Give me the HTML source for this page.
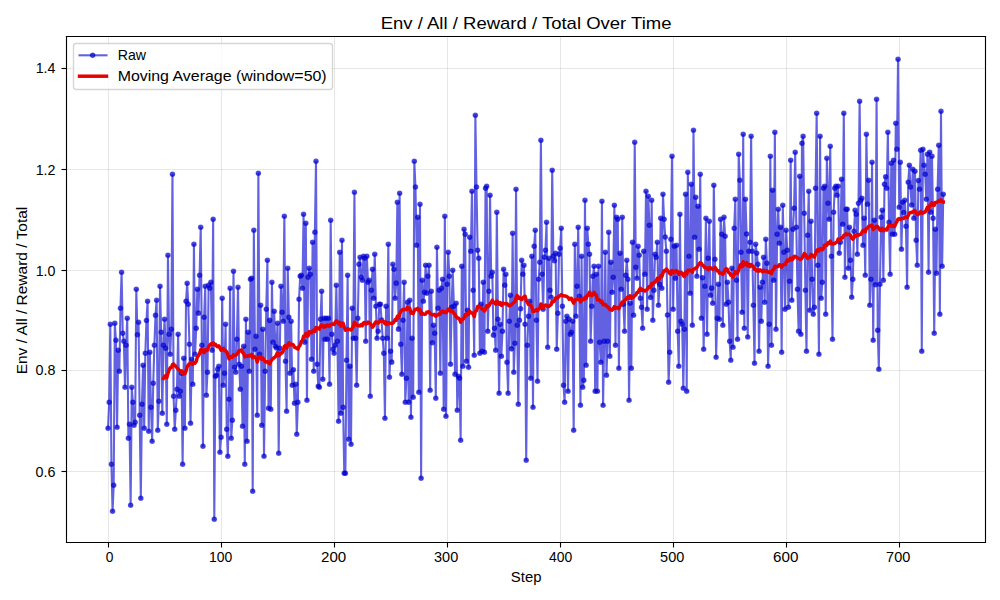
<!DOCTYPE html>
<html><head><meta charset="utf-8"><title>Env / All / Reward / Total Over Time</title><style>
html,body{margin:0;padding:0;background:#fff;width:1000px;height:600px;overflow:hidden}
svg{display:block}
text{font-family:"Liberation Sans",sans-serif;fill:#000}
</style></head><body>
<svg width="1000" height="600" viewBox="0 0 1000 600">
<rect width="1000" height="600" fill="#fff"/>
<g stroke="#b0b0b0" stroke-opacity="0.3" stroke-width="1.11"><line x1="108.5" y1="36.5" x2="108.5" y2="542.5"/><line x1="221.5" y1="36.5" x2="221.5" y2="542.5"/><line x1="334.5" y1="36.5" x2="334.5" y2="542.5"/><line x1="447.5" y1="36.5" x2="447.5" y2="542.5"/><line x1="560.5" y1="36.5" x2="560.5" y2="542.5"/><line x1="673.5" y1="36.5" x2="673.5" y2="542.5"/><line x1="786.5" y1="36.5" x2="786.5" y2="542.5"/><line x1="899.5" y1="36.5" x2="899.5" y2="542.5"/><line x1="66.5" y1="68.5" x2="985.5" y2="68.5"/><line x1="66.5" y1="169.5" x2="985.5" y2="169.5"/><line x1="66.5" y1="270.5" x2="985.5" y2="270.5"/><line x1="66.5" y1="370.5" x2="985.5" y2="370.5"/><line x1="66.5" y1="471.5" x2="985.5" y2="471.5"/></g>
<polyline points="108.04,428.25 109.17,402.25 110.30,324.25 111.43,464.25 112.56,511.25 113.69,485.25 114.82,323.25 115.95,340.25 117.08,427.25 118.21,350.25 119.34,371.25 120.47,308.25 121.60,272.25 122.73,333.25 123.86,341.25 124.99,387.25 126.12,345.25 127.25,318.25 128.38,438.25 129.51,424.25 130.64,505.25 131.77,387.25 132.90,402.25 134.03,425.25 135.16,422.25 136.30,289.25 137.43,334.75 138.56,322.25 139.69,415.25 140.82,498.25 141.95,404.25 143.08,365.25 144.21,428.25 145.34,353.25 146.47,320.57 147.60,301.25 148.73,431.25 149.86,352.25 150.99,407.25 152.12,441.25 153.25,383.25 154.38,345.25 155.51,315.36 156.64,300.25 157.77,430.25 158.90,401.25 160.03,286.25 161.16,332.25 162.29,413.25 163.42,345.25 164.55,319.25 165.68,348.25 166.81,424.25 167.94,255.25 169.07,334.25 170.20,354.25 171.33,329.25 172.46,174.25 173.59,396.25 174.72,429.25 175.85,410.25 176.98,389.25 178.11,334.25 179.24,396.25 180.37,391.25 181.50,373.36 182.63,464.25 183.76,358.25 184.89,428.25 186.02,301.25 187.15,283.25 188.28,304.25 189.41,344.25 190.54,423.25 191.67,359.25 192.81,384.25 193.94,244.25 195.07,354.25 196.20,328.25 197.33,289.25 198.46,313.14 199.59,275.25 200.72,227.25 201.85,345.25 202.98,446.25 204.11,317.25 205.24,286.25 206.37,395.25 207.50,372.26 208.63,285.25 209.76,288.25 210.89,282.25 212.02,350.25 213.15,219.25 214.28,519.25 215.41,376.25 216.54,375.25 217.67,369.25 218.80,366.25 219.93,452.25 221.06,437.25 222.19,298.25 223.32,385.25 224.45,373.25 225.58,324.25 226.71,429.25 227.84,456.25 228.97,399.25 230.10,288.25 231.23,438.25 232.36,420.25 233.49,271.25 234.62,367.25 235.75,372.25 236.88,339.25 238.01,287.25 239.14,364.25 240.27,389.25 241.40,366.18 242.53,426.25 243.66,346.25 244.79,464.25 245.92,319.25 247.05,441.25 248.18,332.25 249.31,371.25 250.45,279.25 251.58,278.25 252.71,491.25 253.84,230.25 254.97,349.25 256.10,336.25 257.23,415.25 258.36,173.25 259.49,354.25 260.62,305.25 261.75,425.25 262.88,329.25 264.01,456.25 265.14,371.25 266.27,309.25 267.40,260.25 268.53,408.25 269.66,320.38 270.79,409.25 271.92,282.25 273.05,342.25 274.18,311.25 275.31,346.25 276.44,348.02 277.57,323.25 278.70,453.25 279.83,348.25 280.96,286.25 282.09,312.25 283.22,321.25 284.35,216.25 285.48,361.25 286.61,411.25 287.74,268.25 288.87,317.25 290.00,373.25 291.13,321.25 292.26,385.25 293.39,369.78 294.52,403.25 295.65,384.25 296.78,434.25 297.91,402.25 299.04,299.25 300.17,276.25 301.30,275.25 302.43,288.25 303.56,214.25 304.69,342.25 305.83,223.25 306.96,400.25 308.09,277.25 309.22,268.25 310.35,274.25 311.48,359.25 312.61,242.25 313.74,371.25 314.87,232.25 316.00,161.25 317.13,364.25 318.26,386.25 319.39,387.25 320.52,319.25 321.65,291.25 322.78,379.25 323.91,318.25 325.04,339.25 326.17,318.25 327.30,339.25 328.43,318.25 329.56,384.25 330.69,220.25 331.82,334.25 332.95,349.25 334.08,353.25 335.21,345.25 336.34,285.25 337.47,341.25 338.60,421.25 339.73,252.25 340.86,413.25 341.99,240.25 343.12,407.25 344.25,473.25 345.38,473.25 346.51,360.25 347.64,275.25 348.77,439.25 349.90,366.25 351.03,444.25 352.16,308.25 353.29,338.25 354.42,192.25 355.55,338.25 356.68,385.25 357.81,318.25 358.94,264.25 360.07,257.25 361.20,277.25 362.34,280.25 363.47,256.25 364.60,258.25 365.73,341.25 366.86,256.25 367.99,282.25 369.12,280.25 370.25,396.25 371.38,290.25 372.51,269.36 373.64,298.25 374.77,254.25 375.90,306.25 377.03,338.25 378.16,331.25 379.29,304.25 380.42,304.25 381.55,319.98 382.68,338.25 383.81,353.25 384.94,418.25 386.07,306.25 387.20,338.25 388.33,244.25 389.46,377.25 390.59,351.25 391.72,362.14 392.85,264.25 393.98,269.25 395.11,298.25 396.24,283.14 397.37,202.25 398.50,329.14 399.63,193.25 400.76,344.25 401.89,374.25 403.02,320.25 404.15,282.25 405.28,402.25 406.41,378.25 407.54,302.25 408.67,402.14 409.80,300.25 410.93,417.25 412.06,338.25 413.19,397.25 414.32,161.25 415.45,187.00 416.58,245.25 417.71,217.25 418.85,392.25 419.98,204.25 421.11,478.25 422.24,280.25 423.37,301.25 424.50,292.25 425.63,265.25 426.76,293.25 427.89,276.25 429.02,265.25 430.15,390.25 431.28,291.25 432.41,342.76 433.54,325.25 434.67,333.25 435.80,398.25 436.93,247.25 438.06,308.25 439.19,290.25 440.32,373.25 441.45,288.25 442.58,279.25 443.71,409.25 444.84,216.25 445.97,416.25 447.10,284.25 448.23,252.25 449.36,276.25 450.49,364.25 451.62,307.25 452.75,270.25 453.88,306.25 455.01,374.25 456.14,303.25 457.27,410.25 458.40,376.25 459.53,378.25 460.66,440.25 461.79,266.25 462.92,366.25 464.05,229.25 465.18,234.25 466.31,361.25 467.44,310.25 468.57,367.25 469.70,237.25 470.83,251.25 471.96,191.25 473.09,290.25 474.22,355.25 475.36,115.25 476.49,187.00 477.62,250.25 478.75,258.25 479.88,353.25 481.01,304.25 482.14,351.25 483.27,282.25 484.40,352.25 485.53,188.25 486.66,186.25 487.79,331.25 488.92,291.25 490.05,195.25 491.18,276.14 492.31,272.25 493.44,335.14 494.57,328.25 495.70,350.25 496.83,212.25 497.96,319.25 499.09,393.25 500.22,324.25 501.35,356.25 502.48,331.25 503.61,269.25 504.74,285.25 505.87,274.25 507.00,362.25 508.13,393.25 509.26,321.25 510.39,295.25 511.52,348.85 512.65,233.25 513.78,372.25 514.91,343.25 516.04,189.25 517.17,325.25 518.30,404.25 519.43,320.25 520.56,308.73 521.69,260.25 522.82,274.25 523.95,265.25 525.08,324.25 526.21,460.25 527.34,345.25 528.47,316.36 529.60,301.25 530.73,378.25 531.87,256.25 533.00,407.25 534.13,246.25 535.26,230.25 536.39,320.25 537.52,381.25 538.65,279.25 539.78,262.25 540.91,140.25 542.04,274.25 543.17,309.25 544.30,257.25 545.43,250.25 546.56,222.25 547.69,347.25 548.82,258.25 549.95,290.25 551.08,297.25 552.21,170.25 553.34,256.25 554.47,260.76 555.60,253.25 556.73,349.25 557.86,313.25 558.99,254.25 560.12,248.25 561.25,228.25 562.38,306.25 563.51,385.25 564.64,402.25 565.77,321.25 566.90,316.25 568.03,391.25 569.16,319.25 570.29,334.36 571.42,332.25 572.55,321.25 573.68,430.25 574.81,244.25 575.94,316.25 577.07,286.25 578.20,227.25 579.33,296.25 580.46,405.25 581.59,256.25 582.72,387.25 583.85,380.25 584.98,200.25 586.11,365.25 587.24,228.25 588.38,244.25 589.51,254.25 590.64,341.25 591.77,306.25 592.90,276.25 594.03,266.25 595.16,391.25 596.29,274.25 597.42,391.25 598.55,266.25 599.68,342.25 600.81,362.25 601.94,201.25 603.07,405.25 604.20,341.25 605.33,252.25 606.46,375.25 607.59,341.25 608.72,232.25 609.85,356.25 610.98,262.25 612.11,292.25 613.24,277.25 614.37,205.25 615.50,345.25 616.63,217.25 617.76,219.25 618.89,368.25 620.02,253.25 621.15,289.25 622.28,217.25 623.41,304.25 624.54,331.25 625.67,275.36 626.80,260.25 627.93,279.25 629.06,400.25 630.19,303.25 631.32,368.25 632.45,242.25 633.58,315.25 634.71,142.25 635.84,267.25 636.97,278.25 638.10,246.25 639.23,255.25 640.36,298.25 641.49,307.25 642.62,328.25 643.75,251.25 644.88,274.25 646.02,191.25 647.15,309.25 648.28,196.25 649.41,225.25 650.54,297.52 651.67,200.25 652.80,320.25 653.93,290.25 655.06,254.25 656.19,257.36 657.32,242.25 658.45,305.25 659.58,284.33 660.71,218.25 661.84,288.25 662.97,194.25 664.10,219.25 665.23,237.00 666.36,251.25 667.49,314.94 668.62,382.25 669.75,352.25 670.88,239.25 672.01,156.25 673.14,309.25 674.27,246.25 675.40,278.25 676.53,245.25 677.66,331.25 678.79,366.25 679.92,214.25 681.05,321.25 682.18,324.25 683.31,388.25 684.44,329.25 685.57,194.25 686.70,391.25 687.83,172.25 688.96,256.25 690.09,293.25 691.22,184.25 692.35,325.25 693.48,130.25 694.61,237.25 695.74,197.25 696.87,276.25 698.00,206.25 699.13,249.25 700.26,174.25 701.39,318.25 702.53,277.66 703.66,349.25 704.79,286.25 705.92,218.25 707.05,334.25 708.18,258.19 709.31,221.25 710.44,295.25 711.57,288.14 712.70,303.25 713.83,185.25 714.96,259.25 716.09,357.25 717.22,318.25 718.35,284.25 719.48,319.25 720.61,219.25 721.74,234.25 722.87,325.25 724.00,217.25 725.13,236.25 726.26,304.25 727.39,282.25 728.52,302.24 729.65,341.25 730.78,360.25 731.91,268.25 733.04,347.25 734.17,228.25 735.30,199.25 736.43,280.25 737.56,339.25 738.69,154.25 739.82,180.25 740.95,252.25 742.08,312.25 743.21,134.25 744.34,328.25 745.47,199.25 746.60,234.08 747.73,337.00 748.86,251.25 749.99,242.25 751.12,136.25 752.25,251.25 753.38,305.25 754.51,363.25 755.64,244.25 756.77,253.25 757.90,264.25 759.04,351.25 760.17,287.25 761.30,321.25 762.43,282.25 763.56,257.25 764.69,302.25 765.82,239.25 766.95,263.25 768.08,366.25 769.21,324.25 770.34,156.25 771.47,345.25 772.60,190.25 773.73,280.25 774.86,132.25 775.99,329.25 777.12,234.25 778.25,209.25 779.38,243.25 780.51,227.25 781.64,352.25 782.77,205.25 783.90,252.25 785.03,309.25 786.16,230.25 787.29,250.25 788.42,307.25 789.55,281.25 790.68,160.25 791.81,300.25 792.94,229.25 794.07,208.25 795.20,152.25 796.33,227.25 797.46,289.25 798.59,331.25 799.72,176.25 800.85,334.25 801.98,143.25 803.11,136.25 804.24,213.25 805.37,290.25 806.50,351.25 807.63,235.25 808.76,191.25 809.89,310.25 811.02,221.25 812.15,279.25 813.28,314.25 814.42,307.25 815.55,188.25 816.68,113.25 817.81,265.25 818.94,354.25 820.07,136.25 821.20,298.25 822.33,282.25 823.46,188.25 824.59,186.25 825.72,314.25 826.85,158.25 827.98,203.25 829.11,219.25 830.24,146.25 831.37,256.25 832.50,339.25 833.63,212.25 834.76,188.25 835.89,186.25 837.02,195.25 838.15,186.25 839.28,253.25 840.41,242.25 841.54,179.25 842.67,224.25 843.80,113.25 844.93,277.25 846.06,209.25 847.19,209.25 848.32,268.25 849.45,227.25 850.58,260.25 851.71,297.25 852.84,279.25 853.97,231.25 855.10,210.25 856.23,214.25 857.36,254.25 858.49,203.25 859.62,101.25 860.75,200.25 861.88,198.25 863.01,245.25 864.14,218.25 865.27,275.25 866.40,134.25 867.53,204.25 868.66,180.25 869.79,305.25 870.93,279.25 872.06,162.25 873.19,340.25 874.32,220.25 875.45,284.79 876.58,99.25 877.71,330.25 878.84,369.25 879.97,284.25 881.10,217.25 882.23,210.25 883.36,280.25 884.49,184.25 885.62,176.87 886.75,188.25 887.88,132.25 889.01,222.25 890.14,274.25 891.27,163.25 892.40,234.25 893.53,160.25 894.66,234.25 895.79,123.25 896.92,149.25 898.05,59.25 899.18,207.25 900.31,162.25 901.44,249.25 902.57,202.25 903.70,212.50 904.83,200.25 905.96,226.25 907.09,287.25 908.22,182.25 909.35,165.25 910.48,187.00 911.61,205.00 912.74,169.25 913.87,218.25 915.00,171.25 916.13,240.25 917.26,265.25 918.39,180.61 919.52,189.25 920.65,150.25 921.78,351.25 922.91,149.25 924.04,165.25 925.17,174.25 926.30,199.25 927.44,154.25 928.57,272.25 929.70,152.25 930.83,212.25 931.96,156.25 933.09,218.25 934.22,333.25 935.35,229.25 936.48,273.25 937.61,189.25 938.74,145.25 939.87,314.25 941.00,111.25 942.13,266.25 943.26,194.25" fill="none" stroke="#0000d0" stroke-opacity="0.62" stroke-width="2.083" stroke-linejoin="round" stroke-linecap="square"/>
<g fill="#0000d0" fill-opacity="0.62" stroke="#0000d0" stroke-opacity="0.62" stroke-width="1.389"><circle cx="108.04" cy="428.25" r="2.083"/><circle cx="109.17" cy="402.25" r="2.083"/><circle cx="110.30" cy="324.25" r="2.083"/><circle cx="111.43" cy="464.25" r="2.083"/><circle cx="112.56" cy="511.25" r="2.083"/><circle cx="113.69" cy="485.25" r="2.083"/><circle cx="114.82" cy="323.25" r="2.083"/><circle cx="115.95" cy="340.25" r="2.083"/><circle cx="117.08" cy="427.25" r="2.083"/><circle cx="118.21" cy="350.25" r="2.083"/><circle cx="119.34" cy="371.25" r="2.083"/><circle cx="120.47" cy="308.25" r="2.083"/><circle cx="121.60" cy="272.25" r="2.083"/><circle cx="122.73" cy="333.25" r="2.083"/><circle cx="123.86" cy="341.25" r="2.083"/><circle cx="124.99" cy="387.25" r="2.083"/><circle cx="126.12" cy="345.25" r="2.083"/><circle cx="127.25" cy="318.25" r="2.083"/><circle cx="128.38" cy="438.25" r="2.083"/><circle cx="129.51" cy="424.25" r="2.083"/><circle cx="130.64" cy="505.25" r="2.083"/><circle cx="131.77" cy="387.25" r="2.083"/><circle cx="132.90" cy="402.25" r="2.083"/><circle cx="134.03" cy="425.25" r="2.083"/><circle cx="135.16" cy="422.25" r="2.083"/><circle cx="136.30" cy="289.25" r="2.083"/><circle cx="137.43" cy="334.75" r="2.083"/><circle cx="138.56" cy="322.25" r="2.083"/><circle cx="139.69" cy="415.25" r="2.083"/><circle cx="140.82" cy="498.25" r="2.083"/><circle cx="141.95" cy="404.25" r="2.083"/><circle cx="143.08" cy="365.25" r="2.083"/><circle cx="144.21" cy="428.25" r="2.083"/><circle cx="145.34" cy="353.25" r="2.083"/><circle cx="146.47" cy="320.57" r="2.083"/><circle cx="147.60" cy="301.25" r="2.083"/><circle cx="148.73" cy="431.25" r="2.083"/><circle cx="149.86" cy="352.25" r="2.083"/><circle cx="150.99" cy="407.25" r="2.083"/><circle cx="152.12" cy="441.25" r="2.083"/><circle cx="153.25" cy="383.25" r="2.083"/><circle cx="154.38" cy="345.25" r="2.083"/><circle cx="155.51" cy="315.36" r="2.083"/><circle cx="156.64" cy="300.25" r="2.083"/><circle cx="157.77" cy="430.25" r="2.083"/><circle cx="158.90" cy="401.25" r="2.083"/><circle cx="160.03" cy="286.25" r="2.083"/><circle cx="161.16" cy="332.25" r="2.083"/><circle cx="162.29" cy="413.25" r="2.083"/><circle cx="163.42" cy="345.25" r="2.083"/><circle cx="164.55" cy="319.25" r="2.083"/><circle cx="165.68" cy="348.25" r="2.083"/><circle cx="166.81" cy="424.25" r="2.083"/><circle cx="167.94" cy="255.25" r="2.083"/><circle cx="169.07" cy="334.25" r="2.083"/><circle cx="170.20" cy="354.25" r="2.083"/><circle cx="171.33" cy="329.25" r="2.083"/><circle cx="172.46" cy="174.25" r="2.083"/><circle cx="173.59" cy="396.25" r="2.083"/><circle cx="174.72" cy="429.25" r="2.083"/><circle cx="175.85" cy="410.25" r="2.083"/><circle cx="176.98" cy="389.25" r="2.083"/><circle cx="178.11" cy="334.25" r="2.083"/><circle cx="179.24" cy="396.25" r="2.083"/><circle cx="180.37" cy="391.25" r="2.083"/><circle cx="181.50" cy="373.36" r="2.083"/><circle cx="182.63" cy="464.25" r="2.083"/><circle cx="183.76" cy="358.25" r="2.083"/><circle cx="184.89" cy="428.25" r="2.083"/><circle cx="186.02" cy="301.25" r="2.083"/><circle cx="187.15" cy="283.25" r="2.083"/><circle cx="188.28" cy="304.25" r="2.083"/><circle cx="189.41" cy="344.25" r="2.083"/><circle cx="190.54" cy="423.25" r="2.083"/><circle cx="191.67" cy="359.25" r="2.083"/><circle cx="192.81" cy="384.25" r="2.083"/><circle cx="193.94" cy="244.25" r="2.083"/><circle cx="195.07" cy="354.25" r="2.083"/><circle cx="196.20" cy="328.25" r="2.083"/><circle cx="197.33" cy="289.25" r="2.083"/><circle cx="198.46" cy="313.14" r="2.083"/><circle cx="199.59" cy="275.25" r="2.083"/><circle cx="200.72" cy="227.25" r="2.083"/><circle cx="201.85" cy="345.25" r="2.083"/><circle cx="202.98" cy="446.25" r="2.083"/><circle cx="204.11" cy="317.25" r="2.083"/><circle cx="205.24" cy="286.25" r="2.083"/><circle cx="206.37" cy="395.25" r="2.083"/><circle cx="207.50" cy="372.26" r="2.083"/><circle cx="208.63" cy="285.25" r="2.083"/><circle cx="209.76" cy="288.25" r="2.083"/><circle cx="210.89" cy="282.25" r="2.083"/><circle cx="212.02" cy="350.25" r="2.083"/><circle cx="213.15" cy="219.25" r="2.083"/><circle cx="214.28" cy="519.25" r="2.083"/><circle cx="215.41" cy="376.25" r="2.083"/><circle cx="216.54" cy="375.25" r="2.083"/><circle cx="217.67" cy="369.25" r="2.083"/><circle cx="218.80" cy="366.25" r="2.083"/><circle cx="219.93" cy="452.25" r="2.083"/><circle cx="221.06" cy="437.25" r="2.083"/><circle cx="222.19" cy="298.25" r="2.083"/><circle cx="223.32" cy="385.25" r="2.083"/><circle cx="224.45" cy="373.25" r="2.083"/><circle cx="225.58" cy="324.25" r="2.083"/><circle cx="226.71" cy="429.25" r="2.083"/><circle cx="227.84" cy="456.25" r="2.083"/><circle cx="228.97" cy="399.25" r="2.083"/><circle cx="230.10" cy="288.25" r="2.083"/><circle cx="231.23" cy="438.25" r="2.083"/><circle cx="232.36" cy="420.25" r="2.083"/><circle cx="233.49" cy="271.25" r="2.083"/><circle cx="234.62" cy="367.25" r="2.083"/><circle cx="235.75" cy="372.25" r="2.083"/><circle cx="236.88" cy="339.25" r="2.083"/><circle cx="238.01" cy="287.25" r="2.083"/><circle cx="239.14" cy="364.25" r="2.083"/><circle cx="240.27" cy="389.25" r="2.083"/><circle cx="241.40" cy="366.18" r="2.083"/><circle cx="242.53" cy="426.25" r="2.083"/><circle cx="243.66" cy="346.25" r="2.083"/><circle cx="244.79" cy="464.25" r="2.083"/><circle cx="245.92" cy="319.25" r="2.083"/><circle cx="247.05" cy="441.25" r="2.083"/><circle cx="248.18" cy="332.25" r="2.083"/><circle cx="249.31" cy="371.25" r="2.083"/><circle cx="250.45" cy="279.25" r="2.083"/><circle cx="251.58" cy="278.25" r="2.083"/><circle cx="252.71" cy="491.25" r="2.083"/><circle cx="253.84" cy="230.25" r="2.083"/><circle cx="254.97" cy="349.25" r="2.083"/><circle cx="256.10" cy="336.25" r="2.083"/><circle cx="257.23" cy="415.25" r="2.083"/><circle cx="258.36" cy="173.25" r="2.083"/><circle cx="259.49" cy="354.25" r="2.083"/><circle cx="260.62" cy="305.25" r="2.083"/><circle cx="261.75" cy="425.25" r="2.083"/><circle cx="262.88" cy="329.25" r="2.083"/><circle cx="264.01" cy="456.25" r="2.083"/><circle cx="265.14" cy="371.25" r="2.083"/><circle cx="266.27" cy="309.25" r="2.083"/><circle cx="267.40" cy="260.25" r="2.083"/><circle cx="268.53" cy="408.25" r="2.083"/><circle cx="269.66" cy="320.38" r="2.083"/><circle cx="270.79" cy="409.25" r="2.083"/><circle cx="271.92" cy="282.25" r="2.083"/><circle cx="273.05" cy="342.25" r="2.083"/><circle cx="274.18" cy="311.25" r="2.083"/><circle cx="275.31" cy="346.25" r="2.083"/><circle cx="276.44" cy="348.02" r="2.083"/><circle cx="277.57" cy="323.25" r="2.083"/><circle cx="278.70" cy="453.25" r="2.083"/><circle cx="279.83" cy="348.25" r="2.083"/><circle cx="280.96" cy="286.25" r="2.083"/><circle cx="282.09" cy="312.25" r="2.083"/><circle cx="283.22" cy="321.25" r="2.083"/><circle cx="284.35" cy="216.25" r="2.083"/><circle cx="285.48" cy="361.25" r="2.083"/><circle cx="286.61" cy="411.25" r="2.083"/><circle cx="287.74" cy="268.25" r="2.083"/><circle cx="288.87" cy="317.25" r="2.083"/><circle cx="290.00" cy="373.25" r="2.083"/><circle cx="291.13" cy="321.25" r="2.083"/><circle cx="292.26" cy="385.25" r="2.083"/><circle cx="293.39" cy="369.78" r="2.083"/><circle cx="294.52" cy="403.25" r="2.083"/><circle cx="295.65" cy="384.25" r="2.083"/><circle cx="296.78" cy="434.25" r="2.083"/><circle cx="297.91" cy="402.25" r="2.083"/><circle cx="299.04" cy="299.25" r="2.083"/><circle cx="300.17" cy="276.25" r="2.083"/><circle cx="301.30" cy="275.25" r="2.083"/><circle cx="302.43" cy="288.25" r="2.083"/><circle cx="303.56" cy="214.25" r="2.083"/><circle cx="304.69" cy="342.25" r="2.083"/><circle cx="305.83" cy="223.25" r="2.083"/><circle cx="306.96" cy="400.25" r="2.083"/><circle cx="308.09" cy="277.25" r="2.083"/><circle cx="309.22" cy="268.25" r="2.083"/><circle cx="310.35" cy="274.25" r="2.083"/><circle cx="311.48" cy="359.25" r="2.083"/><circle cx="312.61" cy="242.25" r="2.083"/><circle cx="313.74" cy="371.25" r="2.083"/><circle cx="314.87" cy="232.25" r="2.083"/><circle cx="316.00" cy="161.25" r="2.083"/><circle cx="317.13" cy="364.25" r="2.083"/><circle cx="318.26" cy="386.25" r="2.083"/><circle cx="319.39" cy="387.25" r="2.083"/><circle cx="320.52" cy="319.25" r="2.083"/><circle cx="321.65" cy="291.25" r="2.083"/><circle cx="322.78" cy="379.25" r="2.083"/><circle cx="323.91" cy="318.25" r="2.083"/><circle cx="325.04" cy="339.25" r="2.083"/><circle cx="326.17" cy="318.25" r="2.083"/><circle cx="327.30" cy="339.25" r="2.083"/><circle cx="328.43" cy="318.25" r="2.083"/><circle cx="329.56" cy="384.25" r="2.083"/><circle cx="330.69" cy="220.25" r="2.083"/><circle cx="331.82" cy="334.25" r="2.083"/><circle cx="332.95" cy="349.25" r="2.083"/><circle cx="334.08" cy="353.25" r="2.083"/><circle cx="335.21" cy="345.25" r="2.083"/><circle cx="336.34" cy="285.25" r="2.083"/><circle cx="337.47" cy="341.25" r="2.083"/><circle cx="338.60" cy="421.25" r="2.083"/><circle cx="339.73" cy="252.25" r="2.083"/><circle cx="340.86" cy="413.25" r="2.083"/><circle cx="341.99" cy="240.25" r="2.083"/><circle cx="343.12" cy="407.25" r="2.083"/><circle cx="344.25" cy="473.25" r="2.083"/><circle cx="345.38" cy="473.25" r="2.083"/><circle cx="346.51" cy="360.25" r="2.083"/><circle cx="347.64" cy="275.25" r="2.083"/><circle cx="348.77" cy="439.25" r="2.083"/><circle cx="349.90" cy="366.25" r="2.083"/><circle cx="351.03" cy="444.25" r="2.083"/><circle cx="352.16" cy="308.25" r="2.083"/><circle cx="353.29" cy="338.25" r="2.083"/><circle cx="354.42" cy="192.25" r="2.083"/><circle cx="355.55" cy="338.25" r="2.083"/><circle cx="356.68" cy="385.25" r="2.083"/><circle cx="357.81" cy="318.25" r="2.083"/><circle cx="358.94" cy="264.25" r="2.083"/><circle cx="360.07" cy="257.25" r="2.083"/><circle cx="361.20" cy="277.25" r="2.083"/><circle cx="362.34" cy="280.25" r="2.083"/><circle cx="363.47" cy="256.25" r="2.083"/><circle cx="364.60" cy="258.25" r="2.083"/><circle cx="365.73" cy="341.25" r="2.083"/><circle cx="366.86" cy="256.25" r="2.083"/><circle cx="367.99" cy="282.25" r="2.083"/><circle cx="369.12" cy="280.25" r="2.083"/><circle cx="370.25" cy="396.25" r="2.083"/><circle cx="371.38" cy="290.25" r="2.083"/><circle cx="372.51" cy="269.36" r="2.083"/><circle cx="373.64" cy="298.25" r="2.083"/><circle cx="374.77" cy="254.25" r="2.083"/><circle cx="375.90" cy="306.25" r="2.083"/><circle cx="377.03" cy="338.25" r="2.083"/><circle cx="378.16" cy="331.25" r="2.083"/><circle cx="379.29" cy="304.25" r="2.083"/><circle cx="380.42" cy="304.25" r="2.083"/><circle cx="381.55" cy="319.98" r="2.083"/><circle cx="382.68" cy="338.25" r="2.083"/><circle cx="383.81" cy="353.25" r="2.083"/><circle cx="384.94" cy="418.25" r="2.083"/><circle cx="386.07" cy="306.25" r="2.083"/><circle cx="387.20" cy="338.25" r="2.083"/><circle cx="388.33" cy="244.25" r="2.083"/><circle cx="389.46" cy="377.25" r="2.083"/><circle cx="390.59" cy="351.25" r="2.083"/><circle cx="391.72" cy="362.14" r="2.083"/><circle cx="392.85" cy="264.25" r="2.083"/><circle cx="393.98" cy="269.25" r="2.083"/><circle cx="395.11" cy="298.25" r="2.083"/><circle cx="396.24" cy="283.14" r="2.083"/><circle cx="397.37" cy="202.25" r="2.083"/><circle cx="398.50" cy="329.14" r="2.083"/><circle cx="399.63" cy="193.25" r="2.083"/><circle cx="400.76" cy="344.25" r="2.083"/><circle cx="401.89" cy="374.25" r="2.083"/><circle cx="403.02" cy="320.25" r="2.083"/><circle cx="404.15" cy="282.25" r="2.083"/><circle cx="405.28" cy="402.25" r="2.083"/><circle cx="406.41" cy="378.25" r="2.083"/><circle cx="407.54" cy="302.25" r="2.083"/><circle cx="408.67" cy="402.14" r="2.083"/><circle cx="409.80" cy="300.25" r="2.083"/><circle cx="410.93" cy="417.25" r="2.083"/><circle cx="412.06" cy="338.25" r="2.083"/><circle cx="413.19" cy="397.25" r="2.083"/><circle cx="414.32" cy="161.25" r="2.083"/><circle cx="415.45" cy="187.00" r="2.083"/><circle cx="416.58" cy="245.25" r="2.083"/><circle cx="417.71" cy="217.25" r="2.083"/><circle cx="418.85" cy="392.25" r="2.083"/><circle cx="419.98" cy="204.25" r="2.083"/><circle cx="421.11" cy="478.25" r="2.083"/><circle cx="422.24" cy="280.25" r="2.083"/><circle cx="423.37" cy="301.25" r="2.083"/><circle cx="424.50" cy="292.25" r="2.083"/><circle cx="425.63" cy="265.25" r="2.083"/><circle cx="426.76" cy="293.25" r="2.083"/><circle cx="427.89" cy="276.25" r="2.083"/><circle cx="429.02" cy="265.25" r="2.083"/><circle cx="430.15" cy="390.25" r="2.083"/><circle cx="431.28" cy="291.25" r="2.083"/><circle cx="432.41" cy="342.76" r="2.083"/><circle cx="433.54" cy="325.25" r="2.083"/><circle cx="434.67" cy="333.25" r="2.083"/><circle cx="435.80" cy="398.25" r="2.083"/><circle cx="436.93" cy="247.25" r="2.083"/><circle cx="438.06" cy="308.25" r="2.083"/><circle cx="439.19" cy="290.25" r="2.083"/><circle cx="440.32" cy="373.25" r="2.083"/><circle cx="441.45" cy="288.25" r="2.083"/><circle cx="442.58" cy="279.25" r="2.083"/><circle cx="443.71" cy="409.25" r="2.083"/><circle cx="444.84" cy="216.25" r="2.083"/><circle cx="445.97" cy="416.25" r="2.083"/><circle cx="447.10" cy="284.25" r="2.083"/><circle cx="448.23" cy="252.25" r="2.083"/><circle cx="449.36" cy="276.25" r="2.083"/><circle cx="450.49" cy="364.25" r="2.083"/><circle cx="451.62" cy="307.25" r="2.083"/><circle cx="452.75" cy="270.25" r="2.083"/><circle cx="453.88" cy="306.25" r="2.083"/><circle cx="455.01" cy="374.25" r="2.083"/><circle cx="456.14" cy="303.25" r="2.083"/><circle cx="457.27" cy="410.25" r="2.083"/><circle cx="458.40" cy="376.25" r="2.083"/><circle cx="459.53" cy="378.25" r="2.083"/><circle cx="460.66" cy="440.25" r="2.083"/><circle cx="461.79" cy="266.25" r="2.083"/><circle cx="462.92" cy="366.25" r="2.083"/><circle cx="464.05" cy="229.25" r="2.083"/><circle cx="465.18" cy="234.25" r="2.083"/><circle cx="466.31" cy="361.25" r="2.083"/><circle cx="467.44" cy="310.25" r="2.083"/><circle cx="468.57" cy="367.25" r="2.083"/><circle cx="469.70" cy="237.25" r="2.083"/><circle cx="470.83" cy="251.25" r="2.083"/><circle cx="471.96" cy="191.25" r="2.083"/><circle cx="473.09" cy="290.25" r="2.083"/><circle cx="474.22" cy="355.25" r="2.083"/><circle cx="475.36" cy="115.25" r="2.083"/><circle cx="476.49" cy="187.00" r="2.083"/><circle cx="477.62" cy="250.25" r="2.083"/><circle cx="478.75" cy="258.25" r="2.083"/><circle cx="479.88" cy="353.25" r="2.083"/><circle cx="481.01" cy="304.25" r="2.083"/><circle cx="482.14" cy="351.25" r="2.083"/><circle cx="483.27" cy="282.25" r="2.083"/><circle cx="484.40" cy="352.25" r="2.083"/><circle cx="485.53" cy="188.25" r="2.083"/><circle cx="486.66" cy="186.25" r="2.083"/><circle cx="487.79" cy="331.25" r="2.083"/><circle cx="488.92" cy="291.25" r="2.083"/><circle cx="490.05" cy="195.25" r="2.083"/><circle cx="491.18" cy="276.14" r="2.083"/><circle cx="492.31" cy="272.25" r="2.083"/><circle cx="493.44" cy="335.14" r="2.083"/><circle cx="494.57" cy="328.25" r="2.083"/><circle cx="495.70" cy="350.25" r="2.083"/><circle cx="496.83" cy="212.25" r="2.083"/><circle cx="497.96" cy="319.25" r="2.083"/><circle cx="499.09" cy="393.25" r="2.083"/><circle cx="500.22" cy="324.25" r="2.083"/><circle cx="501.35" cy="356.25" r="2.083"/><circle cx="502.48" cy="331.25" r="2.083"/><circle cx="503.61" cy="269.25" r="2.083"/><circle cx="504.74" cy="285.25" r="2.083"/><circle cx="505.87" cy="274.25" r="2.083"/><circle cx="507.00" cy="362.25" r="2.083"/><circle cx="508.13" cy="393.25" r="2.083"/><circle cx="509.26" cy="321.25" r="2.083"/><circle cx="510.39" cy="295.25" r="2.083"/><circle cx="511.52" cy="348.85" r="2.083"/><circle cx="512.65" cy="233.25" r="2.083"/><circle cx="513.78" cy="372.25" r="2.083"/><circle cx="514.91" cy="343.25" r="2.083"/><circle cx="516.04" cy="189.25" r="2.083"/><circle cx="517.17" cy="325.25" r="2.083"/><circle cx="518.30" cy="404.25" r="2.083"/><circle cx="519.43" cy="320.25" r="2.083"/><circle cx="520.56" cy="308.73" r="2.083"/><circle cx="521.69" cy="260.25" r="2.083"/><circle cx="522.82" cy="274.25" r="2.083"/><circle cx="523.95" cy="265.25" r="2.083"/><circle cx="525.08" cy="324.25" r="2.083"/><circle cx="526.21" cy="460.25" r="2.083"/><circle cx="527.34" cy="345.25" r="2.083"/><circle cx="528.47" cy="316.36" r="2.083"/><circle cx="529.60" cy="301.25" r="2.083"/><circle cx="530.73" cy="378.25" r="2.083"/><circle cx="531.87" cy="256.25" r="2.083"/><circle cx="533.00" cy="407.25" r="2.083"/><circle cx="534.13" cy="246.25" r="2.083"/><circle cx="535.26" cy="230.25" r="2.083"/><circle cx="536.39" cy="320.25" r="2.083"/><circle cx="537.52" cy="381.25" r="2.083"/><circle cx="538.65" cy="279.25" r="2.083"/><circle cx="539.78" cy="262.25" r="2.083"/><circle cx="540.91" cy="140.25" r="2.083"/><circle cx="542.04" cy="274.25" r="2.083"/><circle cx="543.17" cy="309.25" r="2.083"/><circle cx="544.30" cy="257.25" r="2.083"/><circle cx="545.43" cy="250.25" r="2.083"/><circle cx="546.56" cy="222.25" r="2.083"/><circle cx="547.69" cy="347.25" r="2.083"/><circle cx="548.82" cy="258.25" r="2.083"/><circle cx="549.95" cy="290.25" r="2.083"/><circle cx="551.08" cy="297.25" r="2.083"/><circle cx="552.21" cy="170.25" r="2.083"/><circle cx="553.34" cy="256.25" r="2.083"/><circle cx="554.47" cy="260.76" r="2.083"/><circle cx="555.60" cy="253.25" r="2.083"/><circle cx="556.73" cy="349.25" r="2.083"/><circle cx="557.86" cy="313.25" r="2.083"/><circle cx="558.99" cy="254.25" r="2.083"/><circle cx="560.12" cy="248.25" r="2.083"/><circle cx="561.25" cy="228.25" r="2.083"/><circle cx="562.38" cy="306.25" r="2.083"/><circle cx="563.51" cy="385.25" r="2.083"/><circle cx="564.64" cy="402.25" r="2.083"/><circle cx="565.77" cy="321.25" r="2.083"/><circle cx="566.90" cy="316.25" r="2.083"/><circle cx="568.03" cy="391.25" r="2.083"/><circle cx="569.16" cy="319.25" r="2.083"/><circle cx="570.29" cy="334.36" r="2.083"/><circle cx="571.42" cy="332.25" r="2.083"/><circle cx="572.55" cy="321.25" r="2.083"/><circle cx="573.68" cy="430.25" r="2.083"/><circle cx="574.81" cy="244.25" r="2.083"/><circle cx="575.94" cy="316.25" r="2.083"/><circle cx="577.07" cy="286.25" r="2.083"/><circle cx="578.20" cy="227.25" r="2.083"/><circle cx="579.33" cy="296.25" r="2.083"/><circle cx="580.46" cy="405.25" r="2.083"/><circle cx="581.59" cy="256.25" r="2.083"/><circle cx="582.72" cy="387.25" r="2.083"/><circle cx="583.85" cy="380.25" r="2.083"/><circle cx="584.98" cy="200.25" r="2.083"/><circle cx="586.11" cy="365.25" r="2.083"/><circle cx="587.24" cy="228.25" r="2.083"/><circle cx="588.38" cy="244.25" r="2.083"/><circle cx="589.51" cy="254.25" r="2.083"/><circle cx="590.64" cy="341.25" r="2.083"/><circle cx="591.77" cy="306.25" r="2.083"/><circle cx="592.90" cy="276.25" r="2.083"/><circle cx="594.03" cy="266.25" r="2.083"/><circle cx="595.16" cy="391.25" r="2.083"/><circle cx="596.29" cy="274.25" r="2.083"/><circle cx="597.42" cy="391.25" r="2.083"/><circle cx="598.55" cy="266.25" r="2.083"/><circle cx="599.68" cy="342.25" r="2.083"/><circle cx="600.81" cy="362.25" r="2.083"/><circle cx="601.94" cy="201.25" r="2.083"/><circle cx="603.07" cy="405.25" r="2.083"/><circle cx="604.20" cy="341.25" r="2.083"/><circle cx="605.33" cy="252.25" r="2.083"/><circle cx="606.46" cy="375.25" r="2.083"/><circle cx="607.59" cy="341.25" r="2.083"/><circle cx="608.72" cy="232.25" r="2.083"/><circle cx="609.85" cy="356.25" r="2.083"/><circle cx="610.98" cy="262.25" r="2.083"/><circle cx="612.11" cy="292.25" r="2.083"/><circle cx="613.24" cy="277.25" r="2.083"/><circle cx="614.37" cy="205.25" r="2.083"/><circle cx="615.50" cy="345.25" r="2.083"/><circle cx="616.63" cy="217.25" r="2.083"/><circle cx="617.76" cy="219.25" r="2.083"/><circle cx="618.89" cy="368.25" r="2.083"/><circle cx="620.02" cy="253.25" r="2.083"/><circle cx="621.15" cy="289.25" r="2.083"/><circle cx="622.28" cy="217.25" r="2.083"/><circle cx="623.41" cy="304.25" r="2.083"/><circle cx="624.54" cy="331.25" r="2.083"/><circle cx="625.67" cy="275.36" r="2.083"/><circle cx="626.80" cy="260.25" r="2.083"/><circle cx="627.93" cy="279.25" r="2.083"/><circle cx="629.06" cy="400.25" r="2.083"/><circle cx="630.19" cy="303.25" r="2.083"/><circle cx="631.32" cy="368.25" r="2.083"/><circle cx="632.45" cy="242.25" r="2.083"/><circle cx="633.58" cy="315.25" r="2.083"/><circle cx="634.71" cy="142.25" r="2.083"/><circle cx="635.84" cy="267.25" r="2.083"/><circle cx="636.97" cy="278.25" r="2.083"/><circle cx="638.10" cy="246.25" r="2.083"/><circle cx="639.23" cy="255.25" r="2.083"/><circle cx="640.36" cy="298.25" r="2.083"/><circle cx="641.49" cy="307.25" r="2.083"/><circle cx="642.62" cy="328.25" r="2.083"/><circle cx="643.75" cy="251.25" r="2.083"/><circle cx="644.88" cy="274.25" r="2.083"/><circle cx="646.02" cy="191.25" r="2.083"/><circle cx="647.15" cy="309.25" r="2.083"/><circle cx="648.28" cy="196.25" r="2.083"/><circle cx="649.41" cy="225.25" r="2.083"/><circle cx="650.54" cy="297.52" r="2.083"/><circle cx="651.67" cy="200.25" r="2.083"/><circle cx="652.80" cy="320.25" r="2.083"/><circle cx="653.93" cy="290.25" r="2.083"/><circle cx="655.06" cy="254.25" r="2.083"/><circle cx="656.19" cy="257.36" r="2.083"/><circle cx="657.32" cy="242.25" r="2.083"/><circle cx="658.45" cy="305.25" r="2.083"/><circle cx="659.58" cy="284.33" r="2.083"/><circle cx="660.71" cy="218.25" r="2.083"/><circle cx="661.84" cy="288.25" r="2.083"/><circle cx="662.97" cy="194.25" r="2.083"/><circle cx="664.10" cy="219.25" r="2.083"/><circle cx="665.23" cy="237.00" r="2.083"/><circle cx="666.36" cy="251.25" r="2.083"/><circle cx="667.49" cy="314.94" r="2.083"/><circle cx="668.62" cy="382.25" r="2.083"/><circle cx="669.75" cy="352.25" r="2.083"/><circle cx="670.88" cy="239.25" r="2.083"/><circle cx="672.01" cy="156.25" r="2.083"/><circle cx="673.14" cy="309.25" r="2.083"/><circle cx="674.27" cy="246.25" r="2.083"/><circle cx="675.40" cy="278.25" r="2.083"/><circle cx="676.53" cy="245.25" r="2.083"/><circle cx="677.66" cy="331.25" r="2.083"/><circle cx="678.79" cy="366.25" r="2.083"/><circle cx="679.92" cy="214.25" r="2.083"/><circle cx="681.05" cy="321.25" r="2.083"/><circle cx="682.18" cy="324.25" r="2.083"/><circle cx="683.31" cy="388.25" r="2.083"/><circle cx="684.44" cy="329.25" r="2.083"/><circle cx="685.57" cy="194.25" r="2.083"/><circle cx="686.70" cy="391.25" r="2.083"/><circle cx="687.83" cy="172.25" r="2.083"/><circle cx="688.96" cy="256.25" r="2.083"/><circle cx="690.09" cy="293.25" r="2.083"/><circle cx="691.22" cy="184.25" r="2.083"/><circle cx="692.35" cy="325.25" r="2.083"/><circle cx="693.48" cy="130.25" r="2.083"/><circle cx="694.61" cy="237.25" r="2.083"/><circle cx="695.74" cy="197.25" r="2.083"/><circle cx="696.87" cy="276.25" r="2.083"/><circle cx="698.00" cy="206.25" r="2.083"/><circle cx="699.13" cy="249.25" r="2.083"/><circle cx="700.26" cy="174.25" r="2.083"/><circle cx="701.39" cy="318.25" r="2.083"/><circle cx="702.53" cy="277.66" r="2.083"/><circle cx="703.66" cy="349.25" r="2.083"/><circle cx="704.79" cy="286.25" r="2.083"/><circle cx="705.92" cy="218.25" r="2.083"/><circle cx="707.05" cy="334.25" r="2.083"/><circle cx="708.18" cy="258.19" r="2.083"/><circle cx="709.31" cy="221.25" r="2.083"/><circle cx="710.44" cy="295.25" r="2.083"/><circle cx="711.57" cy="288.14" r="2.083"/><circle cx="712.70" cy="303.25" r="2.083"/><circle cx="713.83" cy="185.25" r="2.083"/><circle cx="714.96" cy="259.25" r="2.083"/><circle cx="716.09" cy="357.25" r="2.083"/><circle cx="717.22" cy="318.25" r="2.083"/><circle cx="718.35" cy="284.25" r="2.083"/><circle cx="719.48" cy="319.25" r="2.083"/><circle cx="720.61" cy="219.25" r="2.083"/><circle cx="721.74" cy="234.25" r="2.083"/><circle cx="722.87" cy="325.25" r="2.083"/><circle cx="724.00" cy="217.25" r="2.083"/><circle cx="725.13" cy="236.25" r="2.083"/><circle cx="726.26" cy="304.25" r="2.083"/><circle cx="727.39" cy="282.25" r="2.083"/><circle cx="728.52" cy="302.24" r="2.083"/><circle cx="729.65" cy="341.25" r="2.083"/><circle cx="730.78" cy="360.25" r="2.083"/><circle cx="731.91" cy="268.25" r="2.083"/><circle cx="733.04" cy="347.25" r="2.083"/><circle cx="734.17" cy="228.25" r="2.083"/><circle cx="735.30" cy="199.25" r="2.083"/><circle cx="736.43" cy="280.25" r="2.083"/><circle cx="737.56" cy="339.25" r="2.083"/><circle cx="738.69" cy="154.25" r="2.083"/><circle cx="739.82" cy="180.25" r="2.083"/><circle cx="740.95" cy="252.25" r="2.083"/><circle cx="742.08" cy="312.25" r="2.083"/><circle cx="743.21" cy="134.25" r="2.083"/><circle cx="744.34" cy="328.25" r="2.083"/><circle cx="745.47" cy="199.25" r="2.083"/><circle cx="746.60" cy="234.08" r="2.083"/><circle cx="747.73" cy="337.00" r="2.083"/><circle cx="748.86" cy="251.25" r="2.083"/><circle cx="749.99" cy="242.25" r="2.083"/><circle cx="751.12" cy="136.25" r="2.083"/><circle cx="752.25" cy="251.25" r="2.083"/><circle cx="753.38" cy="305.25" r="2.083"/><circle cx="754.51" cy="363.25" r="2.083"/><circle cx="755.64" cy="244.25" r="2.083"/><circle cx="756.77" cy="253.25" r="2.083"/><circle cx="757.90" cy="264.25" r="2.083"/><circle cx="759.04" cy="351.25" r="2.083"/><circle cx="760.17" cy="287.25" r="2.083"/><circle cx="761.30" cy="321.25" r="2.083"/><circle cx="762.43" cy="282.25" r="2.083"/><circle cx="763.56" cy="257.25" r="2.083"/><circle cx="764.69" cy="302.25" r="2.083"/><circle cx="765.82" cy="239.25" r="2.083"/><circle cx="766.95" cy="263.25" r="2.083"/><circle cx="768.08" cy="366.25" r="2.083"/><circle cx="769.21" cy="324.25" r="2.083"/><circle cx="770.34" cy="156.25" r="2.083"/><circle cx="771.47" cy="345.25" r="2.083"/><circle cx="772.60" cy="190.25" r="2.083"/><circle cx="773.73" cy="280.25" r="2.083"/><circle cx="774.86" cy="132.25" r="2.083"/><circle cx="775.99" cy="329.25" r="2.083"/><circle cx="777.12" cy="234.25" r="2.083"/><circle cx="778.25" cy="209.25" r="2.083"/><circle cx="779.38" cy="243.25" r="2.083"/><circle cx="780.51" cy="227.25" r="2.083"/><circle cx="781.64" cy="352.25" r="2.083"/><circle cx="782.77" cy="205.25" r="2.083"/><circle cx="783.90" cy="252.25" r="2.083"/><circle cx="785.03" cy="309.25" r="2.083"/><circle cx="786.16" cy="230.25" r="2.083"/><circle cx="787.29" cy="250.25" r="2.083"/><circle cx="788.42" cy="307.25" r="2.083"/><circle cx="789.55" cy="281.25" r="2.083"/><circle cx="790.68" cy="160.25" r="2.083"/><circle cx="791.81" cy="300.25" r="2.083"/><circle cx="792.94" cy="229.25" r="2.083"/><circle cx="794.07" cy="208.25" r="2.083"/><circle cx="795.20" cy="152.25" r="2.083"/><circle cx="796.33" cy="227.25" r="2.083"/><circle cx="797.46" cy="289.25" r="2.083"/><circle cx="798.59" cy="331.25" r="2.083"/><circle cx="799.72" cy="176.25" r="2.083"/><circle cx="800.85" cy="334.25" r="2.083"/><circle cx="801.98" cy="143.25" r="2.083"/><circle cx="803.11" cy="136.25" r="2.083"/><circle cx="804.24" cy="213.25" r="2.083"/><circle cx="805.37" cy="290.25" r="2.083"/><circle cx="806.50" cy="351.25" r="2.083"/><circle cx="807.63" cy="235.25" r="2.083"/><circle cx="808.76" cy="191.25" r="2.083"/><circle cx="809.89" cy="310.25" r="2.083"/><circle cx="811.02" cy="221.25" r="2.083"/><circle cx="812.15" cy="279.25" r="2.083"/><circle cx="813.28" cy="314.25" r="2.083"/><circle cx="814.42" cy="307.25" r="2.083"/><circle cx="815.55" cy="188.25" r="2.083"/><circle cx="816.68" cy="113.25" r="2.083"/><circle cx="817.81" cy="265.25" r="2.083"/><circle cx="818.94" cy="354.25" r="2.083"/><circle cx="820.07" cy="136.25" r="2.083"/><circle cx="821.20" cy="298.25" r="2.083"/><circle cx="822.33" cy="282.25" r="2.083"/><circle cx="823.46" cy="188.25" r="2.083"/><circle cx="824.59" cy="186.25" r="2.083"/><circle cx="825.72" cy="314.25" r="2.083"/><circle cx="826.85" cy="158.25" r="2.083"/><circle cx="827.98" cy="203.25" r="2.083"/><circle cx="829.11" cy="219.25" r="2.083"/><circle cx="830.24" cy="146.25" r="2.083"/><circle cx="831.37" cy="256.25" r="2.083"/><circle cx="832.50" cy="339.25" r="2.083"/><circle cx="833.63" cy="212.25" r="2.083"/><circle cx="834.76" cy="188.25" r="2.083"/><circle cx="835.89" cy="186.25" r="2.083"/><circle cx="837.02" cy="195.25" r="2.083"/><circle cx="838.15" cy="186.25" r="2.083"/><circle cx="839.28" cy="253.25" r="2.083"/><circle cx="840.41" cy="242.25" r="2.083"/><circle cx="841.54" cy="179.25" r="2.083"/><circle cx="842.67" cy="224.25" r="2.083"/><circle cx="843.80" cy="113.25" r="2.083"/><circle cx="844.93" cy="277.25" r="2.083"/><circle cx="846.06" cy="209.25" r="2.083"/><circle cx="847.19" cy="209.25" r="2.083"/><circle cx="848.32" cy="268.25" r="2.083"/><circle cx="849.45" cy="227.25" r="2.083"/><circle cx="850.58" cy="260.25" r="2.083"/><circle cx="851.71" cy="297.25" r="2.083"/><circle cx="852.84" cy="279.25" r="2.083"/><circle cx="853.97" cy="231.25" r="2.083"/><circle cx="855.10" cy="210.25" r="2.083"/><circle cx="856.23" cy="214.25" r="2.083"/><circle cx="857.36" cy="254.25" r="2.083"/><circle cx="858.49" cy="203.25" r="2.083"/><circle cx="859.62" cy="101.25" r="2.083"/><circle cx="860.75" cy="200.25" r="2.083"/><circle cx="861.88" cy="198.25" r="2.083"/><circle cx="863.01" cy="245.25" r="2.083"/><circle cx="864.14" cy="218.25" r="2.083"/><circle cx="865.27" cy="275.25" r="2.083"/><circle cx="866.40" cy="134.25" r="2.083"/><circle cx="867.53" cy="204.25" r="2.083"/><circle cx="868.66" cy="180.25" r="2.083"/><circle cx="869.79" cy="305.25" r="2.083"/><circle cx="870.93" cy="279.25" r="2.083"/><circle cx="872.06" cy="162.25" r="2.083"/><circle cx="873.19" cy="340.25" r="2.083"/><circle cx="874.32" cy="220.25" r="2.083"/><circle cx="875.45" cy="284.79" r="2.083"/><circle cx="876.58" cy="99.25" r="2.083"/><circle cx="877.71" cy="330.25" r="2.083"/><circle cx="878.84" cy="369.25" r="2.083"/><circle cx="879.97" cy="284.25" r="2.083"/><circle cx="881.10" cy="217.25" r="2.083"/><circle cx="882.23" cy="210.25" r="2.083"/><circle cx="883.36" cy="280.25" r="2.083"/><circle cx="884.49" cy="184.25" r="2.083"/><circle cx="885.62" cy="176.87" r="2.083"/><circle cx="886.75" cy="188.25" r="2.083"/><circle cx="887.88" cy="132.25" r="2.083"/><circle cx="889.01" cy="222.25" r="2.083"/><circle cx="890.14" cy="274.25" r="2.083"/><circle cx="891.27" cy="163.25" r="2.083"/><circle cx="892.40" cy="234.25" r="2.083"/><circle cx="893.53" cy="160.25" r="2.083"/><circle cx="894.66" cy="234.25" r="2.083"/><circle cx="895.79" cy="123.25" r="2.083"/><circle cx="896.92" cy="149.25" r="2.083"/><circle cx="898.05" cy="59.25" r="2.083"/><circle cx="899.18" cy="207.25" r="2.083"/><circle cx="900.31" cy="162.25" r="2.083"/><circle cx="901.44" cy="249.25" r="2.083"/><circle cx="902.57" cy="202.25" r="2.083"/><circle cx="903.70" cy="212.50" r="2.083"/><circle cx="904.83" cy="200.25" r="2.083"/><circle cx="905.96" cy="226.25" r="2.083"/><circle cx="907.09" cy="287.25" r="2.083"/><circle cx="908.22" cy="182.25" r="2.083"/><circle cx="909.35" cy="165.25" r="2.083"/><circle cx="910.48" cy="187.00" r="2.083"/><circle cx="911.61" cy="205.00" r="2.083"/><circle cx="912.74" cy="169.25" r="2.083"/><circle cx="913.87" cy="218.25" r="2.083"/><circle cx="915.00" cy="171.25" r="2.083"/><circle cx="916.13" cy="240.25" r="2.083"/><circle cx="917.26" cy="265.25" r="2.083"/><circle cx="918.39" cy="180.61" r="2.083"/><circle cx="919.52" cy="189.25" r="2.083"/><circle cx="920.65" cy="150.25" r="2.083"/><circle cx="921.78" cy="351.25" r="2.083"/><circle cx="922.91" cy="149.25" r="2.083"/><circle cx="924.04" cy="165.25" r="2.083"/><circle cx="925.17" cy="174.25" r="2.083"/><circle cx="926.30" cy="199.25" r="2.083"/><circle cx="927.44" cy="154.25" r="2.083"/><circle cx="928.57" cy="272.25" r="2.083"/><circle cx="929.70" cy="152.25" r="2.083"/><circle cx="930.83" cy="212.25" r="2.083"/><circle cx="931.96" cy="156.25" r="2.083"/><circle cx="933.09" cy="218.25" r="2.083"/><circle cx="934.22" cy="333.25" r="2.083"/><circle cx="935.35" cy="229.25" r="2.083"/><circle cx="936.48" cy="273.25" r="2.083"/><circle cx="937.61" cy="189.25" r="2.083"/><circle cx="938.74" cy="145.25" r="2.083"/><circle cx="939.87" cy="314.25" r="2.083"/><circle cx="941.00" cy="111.25" r="2.083"/><circle cx="942.13" cy="266.25" r="2.083"/><circle cx="943.26" cy="194.25" r="2.083"/></g>
<polyline points="163.42,378.50 164.55,376.45 165.68,375.51 166.81,377.63 167.94,373.58 169.07,370.15 170.20,367.62 171.33,367.80 172.46,364.52 173.59,363.92 174.72,365.49 175.85,366.25 176.98,367.83 178.11,369.03 179.24,370.24 180.37,371.19 181.50,370.87 182.63,373.20 183.76,373.94 184.89,373.68 186.02,371.17 187.15,366.69 188.28,365.00 189.41,363.81 190.54,363.74 191.67,362.45 192.81,364.33 193.94,362.52 195.07,363.16 196.20,361.44 197.33,357.29 198.46,355.49 199.59,353.74 200.72,349.78 201.85,349.66 202.98,352.22 204.11,352.59 205.24,349.74 206.37,350.65 207.50,350.01 208.63,346.94 209.76,345.09 210.89,343.87 212.02,344.60 213.15,343.01 214.28,344.80 215.41,344.30 216.54,346.07 217.67,346.79 218.80,345.82 219.93,347.92 221.06,350.24 222.19,349.20 223.32,348.38 224.45,350.70 225.58,350.46 226.71,351.92 227.84,354.44 228.97,358.93 230.10,356.78 231.23,356.98 232.36,357.21 233.49,354.88 234.62,355.58 235.75,355.13 236.88,354.12 238.01,352.42 239.14,350.45 240.27,351.08 241.40,349.84 242.53,352.32 243.66,353.53 244.79,356.66 245.92,356.09 247.05,356.37 248.18,355.75 249.31,355.41 250.45,356.04 251.58,354.45 252.71,357.64 253.84,356.41 254.97,357.10 256.10,358.28 257.23,362.02 258.36,358.59 259.49,356.79 260.62,356.59 261.75,359.41 262.88,358.14 264.01,359.86 265.14,361.60 266.27,362.03 267.40,361.58 268.53,362.71 269.66,363.78 270.79,361.51 271.92,359.54 273.05,358.79 274.18,357.53 275.31,357.03 276.44,354.87 277.57,352.53 278.70,355.58 279.83,354.83 280.96,353.11 282.09,352.92 283.22,350.84 284.35,346.15 285.48,345.51 286.61,348.08 287.74,344.80 288.87,342.84 290.00,344.96 291.13,344.09 292.26,344.38 293.39,344.98 294.52,347.27 295.65,347.62 296.78,348.46 297.91,349.10 299.04,346.50 300.17,345.06 301.30,341.26 302.43,340.65 303.56,336.14 304.69,336.38 305.83,333.48 306.96,335.95 308.09,335.99 309.22,331.60 310.35,332.55 311.48,332.81 312.61,330.99 313.74,330.17 314.87,331.39 316.00,327.56 317.13,328.76 318.26,328.00 319.39,329.16 320.52,326.42 321.65,324.80 322.78,326.15 323.91,327.25 325.04,325.80 326.17,326.57 327.30,325.08 328.43,325.70 329.56,326.43 330.69,324.50 331.82,324.14 332.95,324.05 334.08,324.53 335.21,322.26 336.34,320.88 337.47,321.85 338.60,323.90 339.73,322.37 340.86,326.15 341.99,323.56 343.12,323.31 344.25,327.23 345.38,330.16 346.51,329.73 347.64,328.65 348.77,329.57 349.90,329.36 351.03,330.06 352.16,328.43 353.29,326.42 354.42,322.15 355.55,322.86 356.68,324.96 357.81,325.74 358.94,325.19 360.07,325.98 361.20,324.64 362.34,325.74 363.47,322.86 364.60,322.49 365.73,323.97 366.86,323.65 367.99,322.18 369.12,323.01 370.25,323.60 371.38,324.85 372.51,327.12 373.64,325.89 374.77,323.35 375.90,321.81 377.03,322.25 378.16,323.09 379.29,321.64 380.42,321.39 381.55,321.03 382.68,321.44 383.81,321.72 384.94,323.71 386.07,322.15 387.20,324.50 388.33,322.70 389.46,323.26 390.59,323.23 391.72,323.58 392.85,323.21 393.98,321.84 395.11,319.49 396.24,320.22 397.37,316.16 398.50,318.10 399.63,314.04 400.76,311.69 401.89,309.94 403.02,309.37 404.15,309.73 405.28,309.20 406.41,309.63 407.54,306.98 408.67,309.00 409.80,308.40 410.93,313.06 412.06,313.22 413.19,313.63 414.32,310.68 415.45,309.31 416.58,309.25 417.71,308.22 418.85,310.61 419.98,309.71 421.11,314.23 422.24,313.13 423.37,314.13 424.50,314.39 425.63,314.15 426.76,312.13 427.89,311.87 429.02,311.77 430.15,313.57 431.28,314.26 432.41,314.93 433.54,314.60 434.67,314.56 435.80,316.36 436.93,315.15 438.06,314.84 439.19,313.82 440.32,314.16 441.45,311.52 442.58,310.95 443.71,312.35 444.84,311.79 445.97,312.57 447.10,311.26 448.23,309.10 449.36,309.38 450.49,311.32 451.62,311.53 452.75,311.32 453.88,313.43 455.01,314.38 456.14,316.59 457.27,317.92 458.40,317.97 459.53,319.13 460.66,322.29 461.79,319.58 462.92,319.35 464.05,317.90 465.18,314.59 466.31,315.82 467.44,313.68 468.57,314.27 469.70,311.07 470.83,312.88 471.96,312.97 473.09,313.89 474.22,316.68 475.36,311.20 476.49,310.92 477.62,306.44 478.75,306.08 479.88,307.22 481.01,307.58 482.14,309.42 483.27,309.33 484.40,311.00 485.53,309.63 486.66,305.74 487.79,306.75 488.92,305.94 490.05,303.57 491.18,302.58 492.31,300.29 493.44,302.19 494.57,302.79 495.70,304.16 496.83,301.09 497.96,301.83 499.09,304.19 500.22,302.54 501.35,305.34 502.48,303.61 503.61,303.24 504.74,303.79 505.87,303.62 507.00,303.44 508.13,305.00 509.26,305.86 510.39,305.48 511.52,304.83 512.65,303.30 513.78,302.43 514.91,301.68 516.04,297.86 517.17,295.55 518.30,298.31 519.43,297.40 520.56,299.01 521.69,299.55 522.82,297.83 523.95,296.94 525.08,296.06 526.21,300.46 527.34,302.24 528.47,304.63 529.60,304.68 530.73,304.93 531.87,307.50 533.00,311.64 534.13,311.28 535.26,310.43 536.39,309.49 537.52,310.75 538.65,309.04 539.78,308.39 540.91,303.92 542.04,305.41 543.17,307.66 544.30,305.98 545.43,304.98 546.56,305.36 547.69,306.72 548.82,306.31 549.95,305.39 551.08,304.70 552.21,301.06 553.34,301.91 554.47,300.73 555.60,297.94 556.73,298.45 557.86,297.62 558.99,296.11 560.12,295.72 561.25,294.62 562.38,295.30 563.51,295.80 564.64,296.03 565.77,296.07 566.90,296.53 568.03,297.43 569.16,299.19 570.29,298.49 571.42,298.31 572.55,300.98 573.68,303.10 574.81,299.92 575.94,299.84 577.07,299.39 578.20,298.70 579.33,299.11 580.46,301.86 581.59,300.46 582.72,298.96 583.85,299.63 584.98,297.27 586.11,298.53 587.24,295.51 588.38,295.27 589.51,292.20 590.64,294.09 591.77,295.60 592.90,294.71 594.03,292.40 595.16,294.62 596.29,294.84 597.42,299.82 598.55,299.62 599.68,300.24 600.81,302.28 601.94,301.24 603.07,304.81 604.20,304.60 605.33,304.37 606.46,305.94 607.59,306.68 608.72,307.78 609.85,309.64 610.98,309.54 612.11,310.21 613.24,308.70 614.37,306.48 615.50,308.27 616.63,307.65 617.76,307.48 618.89,308.75 620.02,306.14 621.15,303.91 622.28,301.86 623.41,301.63 624.54,300.43 625.67,299.55 626.80,298.03 627.93,296.92 629.06,298.44 630.19,295.84 631.32,298.24 632.45,296.71 633.58,297.25 634.71,295.55 635.84,294.99 636.97,292.49 638.10,292.35 639.23,289.79 640.36,288.24 641.49,290.47 642.62,289.84 643.75,290.41 644.88,291.12 646.02,289.98 647.15,289.47 648.28,287.38 649.41,286.47 650.54,287.19 651.67,283.47 652.80,284.47 653.93,282.53 655.06,282.36 656.19,280.72 657.32,278.39 658.45,280.53 659.58,278.18 660.71,275.81 661.84,276.62 662.97,273.11 664.10,270.77 665.23,270.97 666.36,268.97 667.49,270.11 668.62,271.97 669.75,273.51 670.88,274.22 672.01,270.46 673.14,272.30 674.27,272.82 675.40,271.00 676.53,270.80 677.66,271.58 678.79,274.49 679.92,272.63 681.05,272.36 682.18,273.24 683.31,275.71 684.44,276.63 685.57,272.46 686.70,274.18 687.83,270.25 688.96,270.53 690.09,270.10 691.22,270.96 692.35,272.14 693.48,269.21 694.61,269.05 695.74,267.92 696.87,267.52 698.00,265.54 699.13,264.00 700.26,262.50 701.39,263.42 702.53,265.18 703.66,266.00 704.79,267.83 705.92,267.72 707.05,268.48 708.18,269.66 709.31,267.71 710.44,267.83 711.57,268.52 712.70,269.46 713.83,268.33 714.96,267.41 716.09,268.86 717.22,270.83 718.35,270.72 719.48,273.17 720.61,273.14 721.74,273.05 722.87,274.50 724.00,272.53 725.13,269.61 726.26,268.65 727.39,269.50 728.52,272.40 729.65,273.02 730.78,275.27 731.91,275.04 733.04,277.05 734.17,274.98 735.30,271.63 736.43,272.94 737.56,273.31 738.69,269.94 739.82,265.84 740.95,264.36 742.08,266.78 743.21,261.72 744.34,264.90 745.47,263.81 746.60,262.68 747.73,265.77 748.86,264.32 749.99,266.59 751.12,264.59 752.25,265.68 753.38,266.26 754.51,269.38 755.64,269.27 756.77,270.83 757.90,269.73 759.04,271.18 760.17,269.91 761.30,270.58 762.43,271.83 763.56,270.25 764.69,271.09 765.82,271.40 766.95,270.70 768.08,272.20 769.21,272.55 770.34,271.90 771.47,273.56 772.60,270.17 773.73,269.38 774.86,266.32 775.99,266.51 777.12,266.81 778.25,266.31 779.38,264.67 780.51,264.86 781.64,267.16 782.77,265.15 783.90,264.52 785.03,264.61 786.16,262.35 787.29,260.11 788.42,260.84 789.55,259.47 790.68,258.07 791.81,260.05 792.94,259.01 794.07,256.38 795.20,256.33 796.33,257.26 797.46,257.99 798.59,258.35 799.72,259.16 800.85,259.26 801.98,258.11 803.11,256.13 804.24,253.63 805.37,254.38 806.50,256.52 807.63,258.45 808.76,257.22 809.89,257.29 811.02,254.42 812.15,255.10 813.28,256.30 814.42,257.17 815.55,253.94 816.68,250.52 817.81,249.47 818.94,250.99 820.07,248.69 821.20,248.74 822.33,249.75 823.46,248.43 824.59,245.04 825.72,245.05 826.85,245.31 827.98,242.69 829.11,243.48 830.24,241.01 831.37,243.67 832.50,244.05 833.63,243.78 834.76,243.53 835.89,242.57 837.02,242.12 838.15,239.00 839.28,240.16 840.41,240.17 841.54,237.78 842.67,237.88 843.80,235.36 844.93,234.95 846.06,233.69 847.19,234.81 848.32,234.26 849.45,234.27 850.58,235.30 851.71,238.14 852.84,239.09 853.97,237.83 855.10,235.30 856.23,235.94 857.36,234.23 858.49,235.35 859.62,234.59 860.75,234.30 861.88,232.47 863.01,230.39 864.14,230.11 865.27,231.87 866.40,228.44 867.53,228.18 868.66,226.28 869.79,226.15 870.93,225.60 872.06,225.06 873.19,229.53 874.32,228.54 875.45,227.04 876.58,226.18 877.71,226.69 878.84,228.29 879.97,230.07 881.10,230.55 882.23,228.35 883.36,230.66 884.49,230.17 885.62,229.21 886.75,229.95 887.88,227.39 889.01,224.96 890.14,226.10 891.27,225.50 892.40,226.34 893.53,225.51 894.66,226.33 895.79,223.58 896.92,221.58 898.05,219.03 899.18,218.54 900.31,219.38 901.44,218.70 902.57,218.46 903.70,218.46 904.83,217.08 905.96,217.06 907.09,217.65 908.22,215.44 909.35,213.28 910.48,212.53 911.61,212.54 912.74,211.78 913.87,211.17 915.00,210.61 916.13,213.43 917.26,214.73 918.39,214.34 919.52,213.14 920.65,211.67 921.78,213.06 922.91,213.21 924.04,212.27 925.17,212.01 926.30,209.77 927.44,207.18 928.57,209.31 929.70,205.52 930.83,205.35 931.96,202.79 933.09,205.19 934.22,205.28 935.35,202.52 936.48,202.35 937.61,201.84 938.74,200.58 939.87,201.32 941.00,199.91 942.13,201.74 943.26,201.91" fill="none" stroke="#e60000" stroke-width="3.47" stroke-linejoin="round" stroke-linecap="square"/>
<g fill="none" stroke="#000" stroke-width="1.11" stroke-linecap="square">
<line x1="66.5" y1="36.5" x2="66.5" y2="542.5"/><line x1="985.5" y1="36.5" x2="985.5" y2="542.5"/>
<line x1="66.5" y1="36.5" x2="985.5" y2="36.5"/><line x1="66.5" y1="542.5" x2="985.5" y2="542.5"/>
</g>
<g fill="none" stroke="#000" stroke-width="1.11"><line x1="108.5" y1="542.5" x2="108.5" y2="547.5"/><line x1="221.5" y1="542.5" x2="221.5" y2="547.5"/><line x1="334.5" y1="542.5" x2="334.5" y2="547.5"/><line x1="447.5" y1="542.5" x2="447.5" y2="547.5"/><line x1="560.5" y1="542.5" x2="560.5" y2="547.5"/><line x1="673.5" y1="542.5" x2="673.5" y2="547.5"/><line x1="786.5" y1="542.5" x2="786.5" y2="547.5"/><line x1="899.5" y1="542.5" x2="899.5" y2="547.5"/><line x1="66.5" y1="68.5" x2="61.5" y2="68.5"/><line x1="66.5" y1="169.5" x2="61.5" y2="169.5"/><line x1="66.5" y1="270.5" x2="61.5" y2="270.5"/><line x1="66.5" y1="370.5" x2="61.5" y2="370.5"/><line x1="66.5" y1="471.5" x2="61.5" y2="471.5"/></g>
<rect x="73.5" y="43.5" width="259" height="46" rx="2.78" fill="#fff" fill-opacity="0.8" stroke="#cccccc" stroke-opacity="0.8" stroke-width="1.389"/>
<line x1="79.5" y1="55.3" x2="106.5" y2="55.3" stroke="#0000d0" stroke-opacity="0.62" stroke-width="2.083" stroke-linecap="square"/>
<circle cx="92.67" cy="55.3" r="2.083" fill="#0000d0" fill-opacity="0.62" stroke="#0000d0" stroke-opacity="0.62" stroke-width="1.389"/>
<line x1="79.5" y1="76.2" x2="106.5" y2="76.2" stroke="#e60000" stroke-width="3.47" stroke-linecap="square"/>
<text x="380.70" y="29.00" textLength="290.87" lengthAdjust="spacingAndGlyphs" font-size="17">Env / All / Reward / Total Over Time</text>
<text x="510.87" y="582.00" textLength="30.57" lengthAdjust="spacingAndGlyphs" font-size="14.1">Step</text>
<text transform="translate(27.00,374.34) rotate(-90)" textLength="167.62" lengthAdjust="spacingAndGlyphs" font-size="14.1">Env / All / Reward / Total</text>
<text x="105.70" y="562.00" textLength="7.66" lengthAdjust="spacingAndGlyphs" font-size="14.1">0</text>
<text x="209.01" y="562.00" textLength="23.21" lengthAdjust="spacingAndGlyphs" font-size="14.1">100</text>
<text x="320.99" y="562.00" textLength="25.20" lengthAdjust="spacingAndGlyphs" font-size="14.1">200</text>
<text x="434.05" y="562.00" textLength="24.15" lengthAdjust="spacingAndGlyphs" font-size="14.1">300</text>
<text x="548.98" y="562.00" textLength="23.22" lengthAdjust="spacingAndGlyphs" font-size="14.1">400</text>
<text x="660.08" y="562.00" textLength="24.15" lengthAdjust="spacingAndGlyphs" font-size="14.1">500</text>
<text x="773.00" y="562.00" textLength="25.32" lengthAdjust="spacingAndGlyphs" font-size="14.1">600</text>
<text x="886.12" y="562.00" textLength="24.15" lengthAdjust="spacingAndGlyphs" font-size="14.1">700</text>
<text x="35.70" y="72.60" textLength="19.80" lengthAdjust="spacingAndGlyphs" font-size="14.1">1.4</text>
<text x="35.70" y="174.60" textLength="19.80" lengthAdjust="spacingAndGlyphs" font-size="14.1">1.2</text>
<text x="35.70" y="275.60" textLength="19.80" lengthAdjust="spacingAndGlyphs" font-size="14.1">1.0</text>
<text x="35.60" y="374.60" textLength="19.90" lengthAdjust="spacingAndGlyphs" font-size="14.1">0.8</text>
<text x="35.60" y="476.60" textLength="19.90" lengthAdjust="spacingAndGlyphs" font-size="14.1">0.6</text>
<text x="117.72" y="60.00" textLength="28.32" lengthAdjust="spacingAndGlyphs" font-size="14.1">Raw</text>
<text x="117.67" y="81.00" textLength="209.00" lengthAdjust="spacingAndGlyphs" font-size="14.1">Moving Average (window=50)</text>
</svg></body></html>
